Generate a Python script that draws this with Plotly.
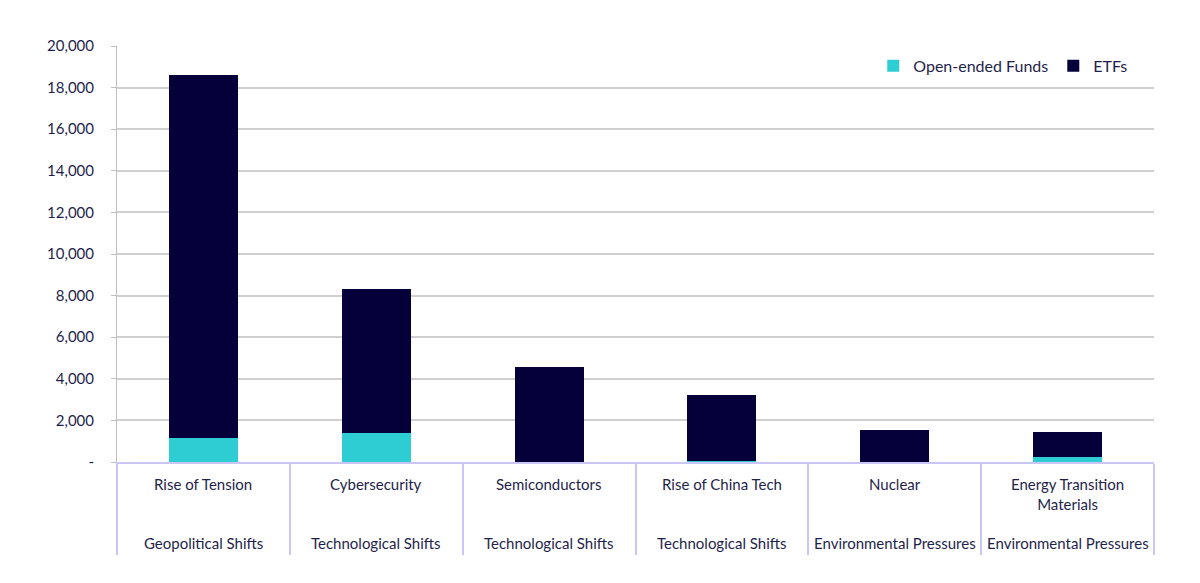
import plotly.graph_objects as go

themes = ["Rise of Tension", "Cybersecurity", "Semiconductors", "Rise of China Tech",
          "Nuclear", "Energy Transition<br>Materials"]
megatrends = ["Geopolitical Shifts", "Technological Shifts", "Technological Shifts",
              "Technological Shifts", "Environmental Pressures", "Environmental Pressures"]
open_ended = [1150, 1380, 20, 60, 10, 240]
etfs = [17450, 6940, 4540, 3180, 1530, 1220]
y_ticks = [0, 2000, 4000, 6000, 8000, 10000, 12000, 14000, 16000, 18000, 20000]
y_ticktext = ["-"] + [f"{v:,}" for v in y_ticks[1:]]

TEXT = "#1f1f4b"
CYAN = "#2ecdd3"
NAVY = "#05003a"
LAV = "#c9c6f5"
FONT = "Lato"

x_idx = list(range(len(themes)))

fig = go.Figure()
fig.add_trace(go.Bar(x=x_idx, y=open_ended, name="Open-ended Funds",
                     marker=dict(color=CYAN, line=dict(width=0))))
fig.add_trace(go.Bar(x=x_idx, y=etfs, name="ETFs",
                     marker=dict(color=NAVY, line=dict(width=0))))

PLOT_H = 416
annotations = []
for i, (t, m) in enumerate(zip(themes, megatrends)):
    annotations.append(dict(x=i, y=-11 / PLOT_H, xref="x", yref="paper", text=t,
                            showarrow=False, yanchor="top", xanchor="center",
                            font=dict(family=FONT, size=15, color=TEXT)))
    annotations.append(dict(x=i, y=-81 / PLOT_H, xref="x", yref="paper", text=m,
                            showarrow=False, yanchor="middle", xanchor="center",
                            font=dict(family=FONT, size=15, color=TEXT)))

fig.update_layout(
    barmode="stack",
    bargap=0.6,
    width=1200, height=583,
    margin=dict(l=109, r=54, t=38, b=129),
    paper_bgcolor="white", plot_bgcolor="white",
    font=dict(family=FONT, size=15, color=TEXT),
    showlegend=True,
    legend=dict(orientation="h", x=0.98, xanchor="right", y=0.952, yanchor="middle",
                bgcolor="rgba(0,0,0,0)", font=dict(family=FONT, size=16, color=TEXT),
                traceorder="normal", itemwidth=30),
    annotations=annotations,
    xaxis=dict(type="linear", range=[-0.5, len(themes) - 0.5],
               tickvals=[i - 0.5 for i in range(len(themes) + 1)],
               showticklabels=False, ticks="outside", ticklen=91, tickwidth=1.5,
               tickcolor=LAV, showgrid=False, zeroline=False,
               showline=True, linecolor=LAV, linewidth=1.5),
    yaxis=dict(range=[0, 20000], tickvals=y_ticks, ticktext=y_ticktext,
               showgrid=True, gridcolor="#d0d0d0", gridwidth=1.5,
               ticks="outside", ticklen=5, tickcolor="#bfbfbf",
               ticklabelstandoff=14,
               showline=True, linecolor="#bfbfbf", linewidth=1,
               zeroline=False, tickfont=dict(family=FONT, size=15, color=TEXT)),
)

fig.write_html("out.html")
